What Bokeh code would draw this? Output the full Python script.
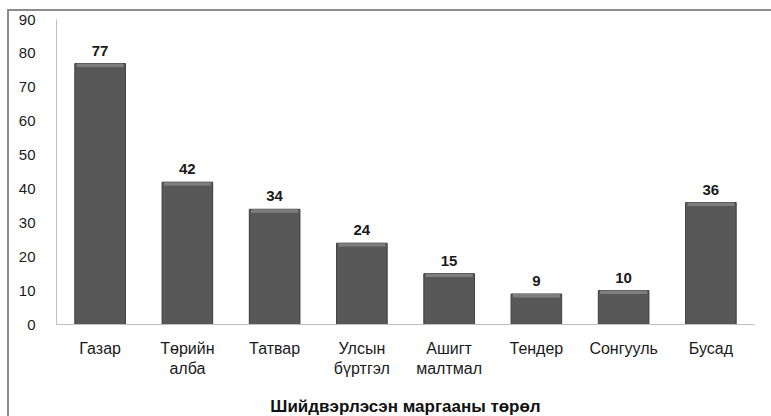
from bokeh.plotting import figure
from bokeh.models import ColumnDataSource, LabelSet
from bokeh.core.properties import value
from bokeh.embed import file_html
from bokeh.resources import INLINE

categories = ["Газар", "Төрийн\nалба", "Татвар", "Улсын\nбүртгэл", "Ашигт\nмалтмал", "Тендер", "Сонгууль", "Бусад"]
values = [77, 42, 34, 24, 15, 9, 10, 36]
y_ticks = [0, 10, 20, 30, 40, 50, 60, 70, 80, 90]
x_title = "Шийдвэрлэсэн маргааны төрөл"

src = ColumnDataSource(dict(cat=categories, val=values, lab=[str(v) for v in values],
                            hl=[v - 1.0 for v in values]))

p = figure(x_range=categories, y_range=(0, 90), width=764, height=407,
           output_backend="svg", toolbar_location=None,
           min_border_left=47, min_border_right=19, min_border_top=8, min_border_bottom=80)
p.styles = {"margin-left": "7px", "margin-top": "9px",
            "border-top": "2px solid #8c8c8c", "border-left": "2px solid #8c8c8c",
            "box-sizing": "border-box"}

p.vbar(x="cat", top="val", width=0.58, source=src, fill_color="#585858", line_color="#3c3c3c", line_width=1)
p.vbar(x="cat", top="val", bottom="hl", width=0.54, source=src, fill_color="#7e7e7e", line_color=None)

labels = LabelSet(x="cat", y="val", text="lab", source=src, text_align="center", text_baseline="bottom",
                  y_offset=8, text_font=value("Liberation Sans"), text_font_size="15px",
                  text_font_style="bold", text_color="#1a1a1a")
p.add_layout(labels)

p.xgrid.visible = False
p.ygrid.visible = False
p.outline_line_color = None

p.yaxis.ticker = y_ticks
p.yaxis.axis_line_color = "#bfbfbf"
p.yaxis.major_tick_line_color = None
p.yaxis.minor_tick_line_color = None
p.yaxis.major_label_standoff = 15
p.yaxis.major_label_text_font = "Liberation Sans"
p.yaxis.major_label_text_font_size = "15px"
p.yaxis.major_label_text_color = "#1a1a1a"

p.xaxis.axis_line_color = "#bfbfbf"
p.xaxis.major_tick_line_color = None
p.xaxis.major_label_standoff = 9
p.xaxis.major_label_text_font = "Liberation Sans"
p.xaxis.major_label_text_font_size = "16px"
p.xaxis.major_label_text_color = "#1a1a1a"
p.xaxis.axis_label = x_title
p.xaxis.axis_label_text_font = "Liberation Sans"
p.xaxis.axis_label_text_font_size = "17px"
p.xaxis.axis_label_text_font_style = "bold"
p.xaxis.axis_label_text_color = "#111111"
p.xaxis.axis_label_standoff = 17

open("out.html", "w").write(file_html(p, INLINE))
